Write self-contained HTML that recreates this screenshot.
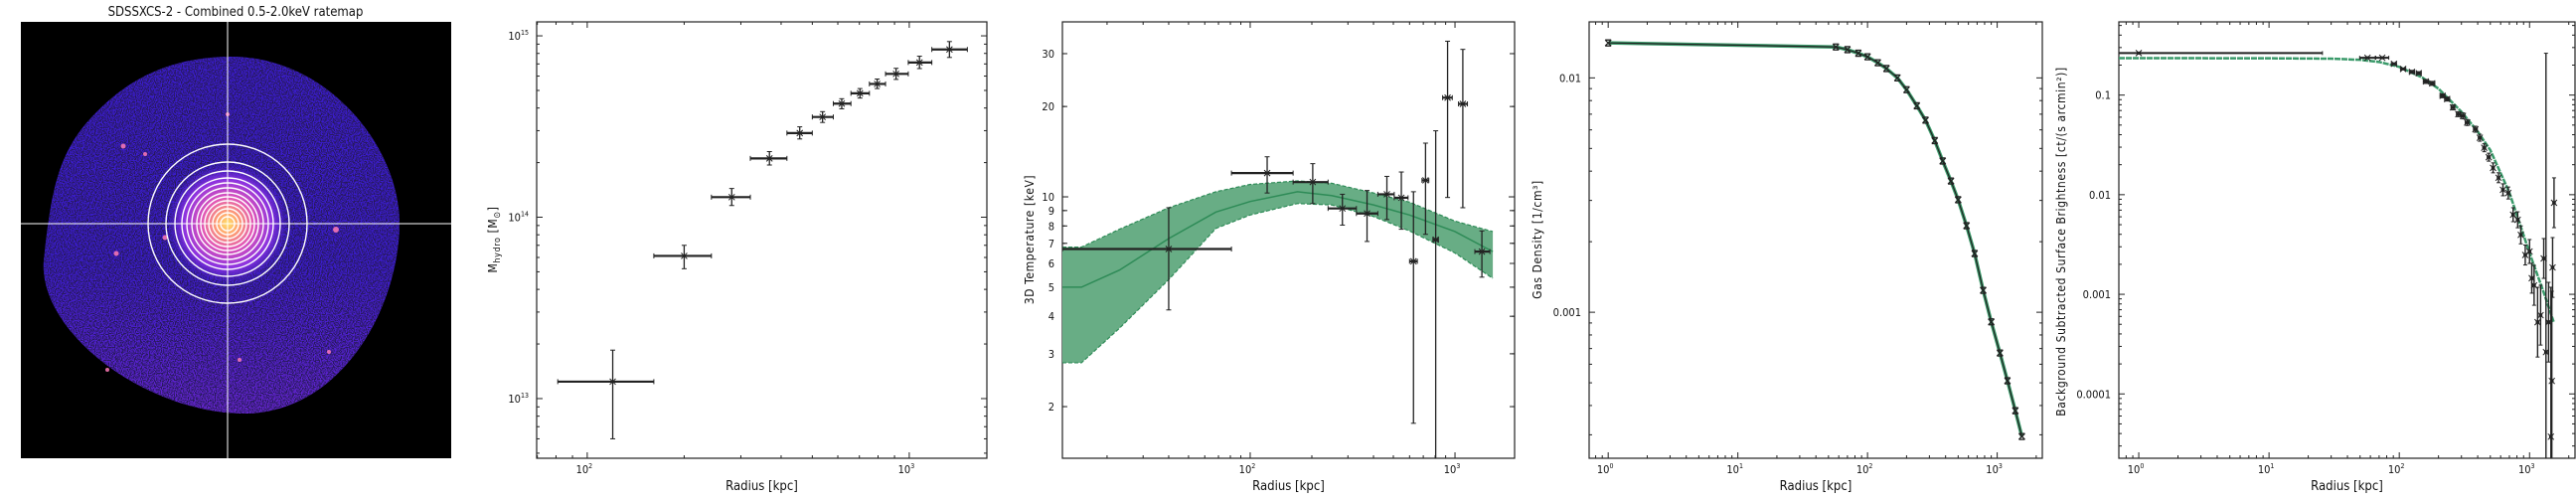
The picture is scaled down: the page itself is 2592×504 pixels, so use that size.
<!DOCTYPE html>
<html><head><meta charset="utf-8"><title>SDSSXCS-2 profiles</title>
<style>
html,body{margin:0;padding:0;background:#fff;width:2592px;height:504px;overflow:hidden}
svg{display:block;overflow:hidden}
text{font-family:"DejaVu Sans Condensed","Liberation Sans",sans-serif;fill:#111}
</style></head>
<body>
<svg id="fig" xmlns="http://www.w3.org/2000/svg" width="2592" height="504" viewBox="0 0 2592 504">
<defs>
  <clipPath id="blobclip"><path d="M229,57 C330,55 404,150 402,228 C400,310 345,412 250,416 C150,418 38,335 44,262 C52,190 58,150 100,110 C140,70 185,58 229,57 Z"/></clipPath>
  <filter id="speck" x="0" y="0" width="100%" height="100%" filterUnits="userSpaceOnUse">
    <feTurbulence type="fractalNoise" baseFrequency="0.85" numOctaves="1" seed="3"/>
    <feColorMatrix type="matrix" values="0 0 0 0 0.02  0 0 0 0 0.01  0 0 0 0 0.10  9 0 0 0 -4.1"/>
  </filter>
  <linearGradient id="lowfade" x1="0" y1="0" x2="0" y2="1">
    <stop offset="0.55" stop-color="#8a2ad8" stop-opacity="0"/>
    <stop offset="1" stop-color="#a030d0" stop-opacity="0.6"/>
  </linearGradient>
  <radialGradient id="core" cx="0.5" cy="0.5" r="0.5">
    <stop offset="0" stop-color="#ffe36a"/>
    <stop offset="0.18" stop-color="#ffa070"/>
    <stop offset="0.42" stop-color="#e055b8"/>
    <stop offset="0.72" stop-color="#8a32e0"/>
    <stop offset="1" stop-color="#4a1fd8" stop-opacity="0"/>
  </radialGradient>
  <clipPath id="c2"><rect x="540" y="22" width="453" height="439"/></clipPath>
  <clipPath id="c3"><rect x="1069" y="22" width="455" height="439"/></clipPath>
  <clipPath id="c4"><rect x="1599" y="22" width="456" height="439"/></clipPath>
  <clipPath id="c5"><rect x="2132" y="22" width="459" height="439"/></clipPath>
</defs>

<g>
  <text x="237" y="16" font-size="13" text-anchor="middle">SDSSXCS-2 - Combined 0.5-2.0keV ratemap</text>
  <rect x="21" y="22" width="433" height="439" fill="#000"/>
  <g clip-path="url(#blobclip)">
    <rect x="21" y="22" width="433" height="439" fill="#3a1ccc"/>
    <rect x="21" y="22" width="433" height="439" fill="url(#lowfade)"/>
    <rect x="21" y="22" width="433" height="439" filter="url(#speck)"/>
  </g>
  <circle cx="229" cy="225" r="62" fill="url(#core)"/>
  <g fill="#ff7ab8" opacity="0.85">
    <circle cx="124" cy="147" r="2.5"/><circle cx="146" cy="155" r="2"/><circle cx="338" cy="231" r="3"/>
    <circle cx="166" cy="239" r="2.5"/><circle cx="117" cy="255" r="2.5"/><circle cx="229" cy="115" r="2"/>
    <circle cx="331" cy="354" r="2"/><circle cx="241" cy="362" r="2"/><circle cx="108" cy="372" r="2"/>
  </g>
  <g fill="none" stroke="#fff" stroke-width="1.4">
    <circle cx="229" cy="225" r="80"/><circle cx="229" cy="225" r="62"/><circle cx="229" cy="225" r="53"/>
    <circle cx="229" cy="225" r="46"/><circle cx="229" cy="225" r="41"/><circle cx="229" cy="225" r="36"/>
    <circle cx="229" cy="225" r="31"/><circle cx="229" cy="225" r="27"/><circle cx="229" cy="225" r="23"/>
    <circle cx="229" cy="225" r="19"/><circle cx="229" cy="225" r="15"/><circle cx="229" cy="225" r="11"/>
    <circle cx="229" cy="225" r="7"/>
  </g>
  <line x1="21" y1="225" x2="454" y2="225" stroke="#fff" stroke-width="1"/>
  <line x1="229" y1="22" x2="229" y2="461" stroke="#fff" stroke-width="1"/>
</g>
</svg>

<script>
const massR = [120,200,281,368,457,538,617,703,795,910,1076,1333];
const massRlo = [81,161,243,321,417,500,581,659,752,844,993,1175];
const massRhi = [161,243,321,417,500,581,659,752,844,993,1175,1515];
const massM = [1.24e13,6.12e13,1.29e14,2.11e14,2.91e14,3.57e14,4.23e14,4.82e14,5.43e14,6.17e14,7.13e14,8.41e14];
const massLo = [6.0e12,5.2e13,1.16e14,1.94e14,2.70e14,3.33e14,3.96e14,4.54e14,5.12e14,5.75e14,6.6e14,7.6e14];
const massHi = [1.85e13,7.0e13,1.44e14,2.30e14,3.15e14,3.82e14,4.50e14,5.12e14,5.78e14,6.62e14,7.72e14,9.3e14];

const tempR = [40,121,202,282,372,465,547,627,718,805,920,1092,1353];
const tempRlo = [12.1,81,162,240,330,420,505,600,690,780,870,1040,1250];
const tempRhi = [81,162,240,330,420,505,590,655,745,830,970,1150,1480];
const tempT = [6.7,12.0,11.2,9.15,8.8,10.2,9.93,6.1,11.35,7.2,21.4,20.4,6.57];
const tempLo = [4.2,10.3,9.5,8.05,7.1,8.4,7.8,1.76,7.5,1.0,9.95,9.2,5.4];
const tempHi = [9.2,13.6,12.9,10.2,10.5,11.7,12.1,10.4,15.1,16.6,33,31,7.7];
const bandR = [12,15,23,40,68,100,170,250,400,600,1000,1530];
const bandMid = [5.0,5.0,5.7,7.26,8.9,9.65,10.4,10.1,9.4,8.7,7.66,6.57];
const bandUp = [6.8,6.8,7.8,9.2,10.4,11.0,11.3,11.1,10.3,9.6,8.3,7.66];
const bandLow = [2.8,2.8,3.65,5.3,7.85,8.7,9.5,9.4,8.6,7.7,6.5,5.35];
const tempTicks = [2,3,4,5,6,7,8,9,10,20,30];

const densR = [1,57,70,85,100,120,140,170,200,240,280,330,380,440,500,580,670,780,900,1050,1200,1380,1550];
const densN = [0.0141,0.01355,0.0132,0.01274,0.0123,0.0116,0.01096,0.0100,0.0089,0.0076,0.0066,0.0054,0.00442,0.00363,0.00302,0.00234,0.00178,0.00124,0.00091,0.00067,0.00051,0.00038,0.000295];

const sbR = [1,57,74,91,107,125,141,160,179,215,233,258,284,308,332,384,415,449,486,525,578,625,687,748,811,857,927,1000,1040,1084,1153,1216,1285,1337,1400,1459,1483,1503,1542];
const sbV = [0.264,0.237,0.237,0.206,0.183,0.171,0.166,0.137,0.131,0.0984,0.0912,0.0752,0.0643,0.0618,0.053,0.0454,0.0373,0.0296,0.0238,0.0186,0.0148,0.0112,0.0104,0.0063,0.0056,0.00395,0.00248,0.00269,0.00145,0.00123,0.000525,0.000617,0.00229,0.000263,0.000525,0.0000372,0.000135,0.00186,0.0083];
const sbErrDex = [0.01,0.01,0.01,0.01,0.01,0.015,0.015,0.02,0.02,0.02,0.02,0.025,0.025,0.03,0.03,0.03,0.035,0.04,0.04,0.05,0.05,0.06,0.06,0.07,0.08,0.09,0.1,0.12,0.15,0.2,0.35,0.3,0.2,3.0,0.4,1.5,0.9,0.3,0.25];
const sbXerrDex = [1.41,0.06,0.05,0.02,0.02,0.02,0.02,0.02,0.02,0.02,0.02,0.015,0.015,0.015,0.015,0.015,0.012,0.012,0.012,0.01,0.01,0.01,0.01,0.01,0.01,0.01,0.01,0.01,0.01,0.01,0.01,0.01,0.01,0.01,0.01,0.01,0.01,0.01,0.01];
const sbModelR = [0.7,1,10,30,50,70,100,150,200,300,400,500,700,1000,1300,1530];
const sbModelV = [0.235,0.235,0.234,0.232,0.226,0.215,0.192,0.15,0.116,0.068,0.043,0.028,0.0105,0.0026,0.001,0.00053];

const NS = 'http://www.w3.org/2000/svg';
const svg = document.getElementById('fig');
function mk(tag, attrs, parent){
  const e = document.createElementNS(NS, tag);
  for (const k in attrs) e.setAttribute(k, attrs[k]);
  (parent || svg).appendChild(e);
  return e;
}
function logAxis(d0, d1, p0, p1){
  const lo = Math.min(p0, p1), hi = Math.max(p0, p1);
  return v => {
    const p = p0 + (Math.log10(v) - d0) / (d1 - d0) * (p1 - p0);
    return Math.max(lo, Math.min(hi, p));
  };
}
const L = Math.log10;

function frame(box, xd, yd, name){
  const g = mk('g', {});
  
  
  const sx = logAxis(xd[0], xd[1], box.x0, box.x1);
  const sy = logAxis(yd[0], yd[1], box.y1, box.y0);
  for (let k = Math.floor(xd[0]); k <= Math.ceil(xd[1]); k++){
    for (let m = 1; m < 10; m++){
      const lv = k + L(m);
      if (lv < xd[0] || lv > xd[1]) continue;
      const x = sx(Math.pow(10, lv));
      const len = m === 1 ? 6 : 3;
      mk('line', {x1:x, y1:box.y1, x2:x, y2:box.y1 - len, stroke:'#222', 'stroke-width':1}, g);
      mk('line', {x1:x, y1:box.y0, x2:x, y2:box.y0 + len, stroke:'#222', 'stroke-width':1}, g);
      if (m === 1){
        const t = mk('text', {x:x - 3, y:box.y1 + 15, 'font-size':11, 'text-anchor':'middle'}, g);
        
        
        t.textContent = '10';
        const s = mk('tspan', {dy:-5, 'font-size':7}, t);
        s.textContent = String(k);
      }
    }
  }
  for (let k = Math.floor(yd[0]); k <= Math.ceil(yd[1]); k++){
    for (let m = 1; m < 10; m++){
      const lv = k + L(m);
      if (lv < yd[0] || lv > yd[1]) continue;
      const y = sy(Math.pow(10, lv));
      const len = m === 1 ? 6 : 3;
      mk('line', {x1:box.x0, y1:y, x2:box.x0 + len, y2:y, stroke:'#222', 'stroke-width':1}, g);
      mk('line', {x1:box.x1, y1:y, x2:box.x1 - len, y2:y, stroke:'#222', 'stroke-width':1}, g);
    }
  }
  const r = mk('rect', {x:box.x0, y:box.y0, width:box.x1 - box.x0, height:box.y1 - box.y0, fill:'none', stroke:'#222', 'stroke-width':1.2}, g);
  
  
  return {sx, sy, g};
}
function yLabel(box, y, txt, name, sup){
  const t = mk('text', {x:box.x0 - 8, y:y + 4, 'font-size':11, 'text-anchor':'end'});
  
  
  t.textContent = txt;
  if (sup !== undefined){
    const s = mk('tspan', {dy:-5, 'font-size':7}, t);
    s.textContent = sup;
  }
}
function xTitle(box, name){
  const t = mk('text', {x:(box.x0 + box.x1) / 2, y:493, 'font-size':13, 'text-anchor':'middle'});
  
  
  t.textContent = 'Radius [kpc]';
}
function errBar(g, x, y, xl, xh, yl, yh, cap, wx, wy){
  mk('line', {x1:xl, y1:y, x2:xh, y2:y, stroke:'#222', 'stroke-width':wx}, g);
  mk('line', {x1:x, y1:yl, x2:x, y2:yh, stroke:'#222', 'stroke-width':wy}, g);
  mk('line', {x1:xl, y1:y - cap, x2:xl, y2:y + cap, stroke:'#222', 'stroke-width':1}, g);
  mk('line', {x1:xh, y1:y - cap, x2:xh, y2:y + cap, stroke:'#222', 'stroke-width':1}, g);
  mk('line', {x1:x - cap, y1:yl, x2:x + cap, y2:yl, stroke:'#222', 'stroke-width':1}, g);
  mk('line', {x1:x - cap, y1:yh, x2:x + cap, y2:yh, stroke:'#222', 'stroke-width':1}, g);
  const s = 3;
  mk('path', {d:`M${x-s},${y-s}L${x+s},${y+s}M${x-s},${y+s}L${x+s},${y-s}`, stroke:'#222', 'stroke-width':1, fill:'none'}, g);
}
function rotLabel(x, y, size, name){
  const t = mk('text', {x:0, y:0, 'font-size':size, 'text-anchor':'middle', transform:`translate(${x},${y}) rotate(-90)`, 'font-family':'DejaVu Sans, sans-serif', 'letter-spacing':'0.6'});
  
  
  return t;
}

{
  const box = {x0:540, x1:993, y0:22, y1:461};
  const A = frame(box, [1.843, 3.241], [12.671, 15.077], 'mass');
  [13,14,15].forEach(k => yLabel(box, A.sy(Math.pow(10,k)), '10', 'mass-y-tick-label', String(k)));
  xTitle(box, 'mass-x-axis-title');
  const t = rotLabel(500, 241, 12, 'mass-y-axis-title');
  t.textContent = 'M';
  const s1 = mk('tspan', {dy:3, 'font-size':9}, t); s1.textContent = 'hydro';
  const s2 = mk('tspan', {dy:-3}, t); s2.textContent = ' [M';
  const s3 = mk('tspan', {dy:3, 'font-size':9}, t); s3.textContent = '⊙';
  const s4 = mk('tspan', {dy:-3}, t); s4.textContent = ']';
  const g = mk('g', {'clip-path':'url(#c2)'});
  
  
  massR.forEach((r, i) => {
    const pg = mk('g', {}, g);
    
    
    errBar(pg, A.sx(r), A.sy(massM[i]), A.sx(massRlo[i]), A.sx(massRhi[i]), A.sy(massLo[i]), A.sy(massHi[i]), 2.5, 2.2, 1.3);
  });
}

{
  const box = {x0:1069, x1:1524, y0:22, y1:461};
  const A = frame(box, [1.083, 3.291], [0.129, 1.583], 'temperature');
  tempTicks.forEach(v => {
    const y = A.sy(v);
    mk('line', {x1:box.x0, y1:y, x2:box.x0 + 5, y2:y, stroke:'#222', 'stroke-width':1});
    mk('line', {x1:box.x1, y1:y, x2:box.x1 - 5, y2:y, stroke:'#222', 'stroke-width':1});
    yLabel(box, y, String(v), 'temperature-y-tick-label');
  });
  xTitle(box, 'temperature-x-axis-title');
  const t = rotLabel(1040, 241, 12, 'temperature-y-axis-title');
  t.textContent = '3D Temperature [keV]';
  const g = mk('g', {'clip-path':'url(#c3)'});
  
  
  let d = '';
  bandR.forEach((r, i) => { d += (i ? 'L' : 'M') + A.sx(r) + ',' + A.sy(bandUp[i]); });
  for (let i = bandR.length - 1; i >= 0; i--) d += 'L' + A.sx(bandR[i]) + ',' + A.sy(bandLow[i]);
  const band = mk('path', {d:d + 'Z', fill:'#68ad85', stroke:'none'}, g);
  
  
  const up = mk('polyline', {points:bandR.map((r,i)=>A.sx(r)+','+A.sy(bandUp[i])).join(' '), fill:'none', stroke:'#2e8b57', 'stroke-width':1.2, 'stroke-dasharray':'4,2'}, g);
  
  
  const lo = mk('polyline', {points:bandR.map((r,i)=>A.sx(r)+','+A.sy(bandLow[i])).join(' '), fill:'none', stroke:'#2e8b57', 'stroke-width':1.2, 'stroke-dasharray':'4,2'}, g);
  
  
  const mid = mk('polyline', {points:bandR.map((r,i)=>A.sx(r)+','+A.sy(bandMid[i])).join(' '), fill:'none', stroke:'#2e8b57', 'stroke-width':1.5}, g);
  
  
  tempR.forEach((r, i) => {
    const pg = mk('g', {}, g);
    
    
    errBar(pg, A.sx(r), A.sy(tempT[i]), A.sx(tempRlo[i]), A.sx(tempRhi[i]), A.sy(tempLo[i]), A.sy(tempHi[i]), 2.5, 2.2, 1.3);
  });
}

{
  const box = {x0:1599, x1:2055, y0:22, y1:461};
  const A = frame(box, [-0.147, 3.348], [-3.623, -1.761], 'density');
  yLabel(box, A.sy(0.01), '0.01', 'density-y-tick-label');
  yLabel(box, A.sy(0.001), '0.001', 'density-y-tick-label');
  xTitle(box, 'density-x-axis-title');
  const t = rotLabel(1551, 241, 12, 'density-y-axis-title');
  t.textContent = 'Gas Density [1/cm³]';
  const g = mk('g', {'clip-path':'url(#c4)'});
  
  
  const ln = mk('polyline', {points:densR.map((r,i)=>A.sx(r)+','+A.sy(densN[i])).join(' '), fill:'none', stroke:'#3a9a6a', 'stroke-width':3.5}, g);
  
  
  const ln2 = mk('polyline', {points:densR.map((r,i)=>A.sx(r)+','+A.sy(densN[i])).join(' '), fill:'none', stroke:'#222', 'stroke-width':1.2}, g);
  
  
  densR.forEach((r, i) => {
    const x = A.sx(r), y = A.sy(densN[i]), s = 3;
    const p = mk('path', {d:`M${x-s},${y-s}L${x+s},${y+s}M${x-s},${y+s}L${x+s},${y-s}M${x-3},${y-3}L${x+3},${y-3}M${x-3},${y+3}L${x+3},${y+3}`, stroke:'#222', 'stroke-width':1.3, fill:'none'}, g);
    
    
  });
}

{
  const box = {x0:2132, x1:2591, y0:22, y1:461};
  const A = frame(box, [-0.153, 3.349], [-4.646, -0.265], 'brightness');
  [['0.1',0.1],['0.01',0.01],['0.001',0.001],['0.0001',0.0001]].forEach(p => yLabel(box, A.sy(p[1]), p[0], 'brightness-y-tick-label'));
  xTitle(box, 'brightness-x-axis-title');
  const t = rotLabel(2078, 243, 12, 'brightness-y-axis-title');
  t.textContent = 'Background Subtracted Surface Brightness [ct/(s arcmin²)]';
  const g = mk('g', {'clip-path':'url(#c5)'});
  
  
  const ln = mk('polyline', {points:sbModelR.map((r,i)=>A.sx(r)+','+A.sy(sbModelV[i])).join(' '), fill:'none', stroke:'#3a9a6a', 'stroke-width':2.5, 'stroke-dasharray':'6,1'}, g);
  
  
  sbR.forEach((r, i) => {
    const pg = mk('g', {}, g);
    
    
    const v = sbV[i], e = Math.pow(10, sbErrDex[i]), ex = Math.pow(10, sbXerrDex[i]);
    errBar(pg, A.sx(r), A.sy(v), A.sx(r / ex), A.sx(r * ex), A.sy(v / e), A.sy(v * e), 2, 2, 1.4);
  });
}
</script>
</body></html>
